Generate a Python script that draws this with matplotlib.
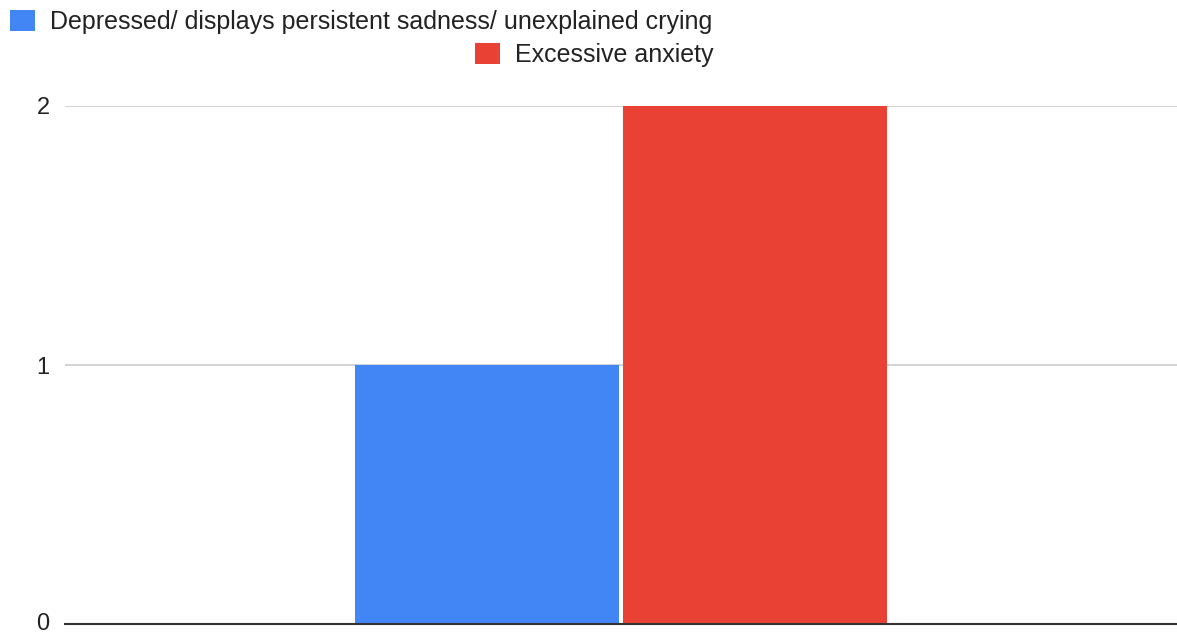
import matplotlib.pyplot as plt
import matplotlib.transforms as mtransforms
import numpy as np

plt.rcParams['font.family'] = ['Liberation Sans', 'DejaVu Sans']

series = ['Depressed/ displays persistent sadness/ unexplained crying', 'Excessive anxiety']
values = [1, 2]
colors = ['#4285F4', '#E94235']
yticks = [0, 1, 2]

fig = plt.figure(figsize=(11.77, 6.35), dpi=100)
ax = fig.add_axes([65 / 1177, 1 - 624 / 635, 1 - 65 / 1177, (624 - 106) / 635])

width = 0.2374
gap = 0.0036
offsets = np.array([-0.5, 0.5]) * (width + gap)
bars = []
for off, v, c in zip(offsets, values, colors):
    bars.append(ax.bar(off, v, width=width, color=c, zorder=2))

ax.set_xlim(-0.5, 0.5)
ax.set_ylim(0, 2)
ax.set_yticks(yticks)
ax.set_yticklabels([str(t) for t in yticks], fontsize=17, color='#222222')
ax.set_xticks([])
ax.tick_params(axis='y', length=0, pad=11)
ax.yaxis.grid(True, color='#cccccc', linewidth=1.2, zorder=0)
for s in ['top', 'right', 'left']:
    ax.spines[s].set_visible(False)
ax.spines['bottom'].set_color('#333333')
ax.spines['bottom'].set_linewidth(1.5)
ax.spines['bottom'].set_zorder(3)

# nudge the bottom tick label up so it stays inside the canvas
lbl0 = ax.get_yticklabels()[0]
lbl0.set_transform(lbl0.get_transform() +
                   mtransforms.ScaledTranslation(0, 2 / 100, fig.dpi_scale_trans))

# legend wraps onto two lines
leg_kw = dict(frameon=False, fontsize=18, handlelength=1.0, handleheight=0.9,
              handletextpad=0.6, borderpad=0, borderaxespad=0, labelcolor='#222222')
fig.legend([bars[0]], [series[0]], loc='center left',
           bbox_to_anchor=(10 / 1177, 1 - 22 / 635), **leg_kw)
fig.legend([bars[1]], [series[1]], loc='center left',
           bbox_to_anchor=(475 / 1177, 1 - 55 / 635), **leg_kw)

fig.savefig('out.png', dpi=100, facecolor='white')
